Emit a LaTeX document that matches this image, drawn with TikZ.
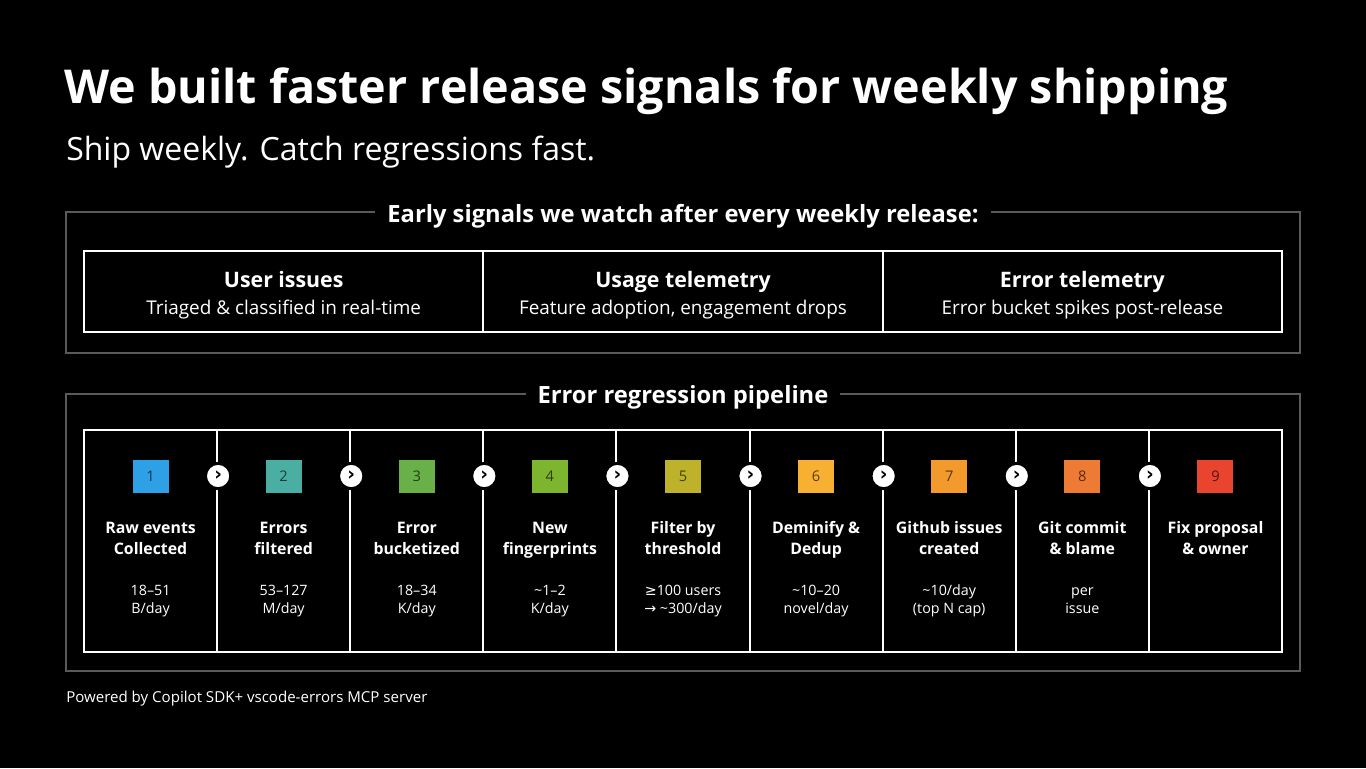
\documentclass[tikz,border=0pt]{standalone}
\usepackage{fontspec}
\setmainfont{Open Sans}
\newfontfamily\symfont{DejaVu Sans}

\definecolor{framegray}{HTML}{5A5A5A}
\definecolor{sqa}{HTML}{2EA1E6}
\definecolor{sqb}{HTML}{4BAEA2}
\definecolor{sqc}{HTML}{6AB048}
\definecolor{sqd}{HTML}{7DB52F}
\definecolor{sqe}{HTML}{BDB22A}
\definecolor{sqf}{HTML}{F7B032}
\definecolor{sqg}{HTML}{F29B2C}
\definecolor{sqh}{HTML}{EE7B34}
\definecolor{sqi}{HTML}{E8442E}

\begin{document}
\begin{tikzpicture}[x=0.75pt,y=-0.75pt,
    panel/.style ={draw=framegray, line width=1.1pt, inner sep=0pt,
                   minimum width=925.5pt},
    heading/.style ={fill=black, text=white, inner xsep=9pt, inner ysep=2pt,
                   font=\bfseries\fontsize{17.8}{20}\selectfont},
    sigcell/.style ={draw=white, line width=1.5pt, inner sep=0pt,
                   minimum width=299.5pt, minimum height=60.75pt},
    sigtitle/.style ={text=white, anchor=base, inner sep=0pt,
                   font=\bfseries\fontsize{16}{19}\selectfont},
    sigtext/.style ={text=white, anchor=base, inner sep=0pt,
                   font=\fontsize{14.2}{17}\selectfont},
    stage/.style ={draw=white, line width=1.5pt, inner sep=0pt,
                   minimum width=99.83pt, minimum height=166.5pt},
    badge/.style ={inner sep=0pt, minimum width=27pt, minimum height=24.75pt,
                   font=\fontsize{11}{12}\selectfont},
    hop/.style ={circle, fill=white, draw=black, line width=2.2pt,
                   inner sep=0pt, minimum size=19pt, text=black,
                   font=\symfont\bfseries\fontsize{14}{14}\selectfont},
    stagename/.style ={text=white, align=center, inner sep=0pt, anchor=north,
                   font=\bfseries\fontsize{11.9}{15.75}\selectfont},
    stagevol/.style ={text=white, align=center, inner sep=0pt, anchor=north,
                   font=\fontsize{10.7}{13.5}\selectfont}]
   \useasboundingbox[fill=black] (0,0) rectangle (1366,768);

   % title
   \node[text=white, anchor=base west, inner sep=0pt,
         font=\bfseries\fontsize{35}{40}\selectfont] (title) at (64,103)
         {We built faster release signals for weekly shipping};
   \node[text=white, anchor=base west, inner sep=0pt,
         font=\fontsize{24}{28}\selectfont] (subtitle) at (66,160)
         {Ship weekly. Catch regressions fast.};

   % early signals
   \node[panel, minimum height=105.75pt] (signals) at (683,282.5) {};
   \node[heading] (signalshead) at (683,216)
         {Early signals we watch after every weekly release:};
   \node[sigcell] (s1) at (283.67,291.5) {};
   \node[sigcell] (s2) at (683,291.5) {};
   \node[sigcell] (s3) at (1082.33,291.5) {};
   \node[sigtitle] (s1t) at (283.67,287) {User issues};
   \node[sigtext]  (s1d) at (283.67,314) {Triaged \& classified in real-time};
   \node[sigtitle] (s2t) at (683,287) {Usage telemetry};
   \node[sigtext]  (s2d) at (683,314) {Feature adoption, engagement drops};
   \node[sigtitle] (s3t) at (1082.33,287) {Error telemetry};
   \node[sigtext]  (s3d) at (1082.33,314) {Error bucket spikes post-release};

   % pipeline
   \node[panel, minimum height=207.75pt] (pipeline) at (683,532.5) {};
   \node[heading] (pipehead) at (683,397) {Error regression pipeline};

   \node[stage] (c1) at (150.56,541) {};
   \node[stage] (c2) at (283.67,541) {};
   \node[stage] (c3) at (416.78,541) {};
   \node[stage] (c4) at (549.89,541) {};
   \node[stage] (c5) at (683,541) {};
   \node[stage] (c6) at (816.11,541) {};
   \node[stage] (c7) at (949.22,541) {};
   \node[stage] (c8) at (1082.33,541) {};
   \node[stage] (c9) at (1215.44,541) {};

   \node[badge, fill=sqa, text=sqa!35!black] (b1) at (150.56,476) {1};
   \node[badge, fill=sqb, text=sqb!35!black] (b2) at (283.67,476) {2};
   \node[badge, fill=sqc, text=sqc!35!black] (b3) at (416.78,476) {3};
   \node[badge, fill=sqd, text=sqd!35!black] (b4) at (549.89,476) {4};
   \node[badge, fill=sqe, text=sqe!35!black] (b5) at (683,476) {5};
   \node[badge, fill=sqf, text=sqf!35!black] (b6) at (816.11,476) {6};
   \node[badge, fill=sqg, text=sqg!35!black] (b7) at (949.22,476) {7};
   \node[badge, fill=sqh, text=sqh!35!black] (b8) at (1082.33,476) {8};
   \node[badge, fill=sqi, text=sqi!35!black] (b9) at (1215.44,476) {9};

   \node[hop] (h1) at (c1.east |- b1) {›};
   \node[hop] (h2) at (c2.east |- b1) {›};
   \node[hop] (h3) at (c3.east |- b1) {›};
   \node[hop] (h4) at (c4.east |- b1) {›};
   \node[hop] (h5) at (c5.east |- b1) {›};
   \node[hop] (h6) at (c6.east |- b1) {›};
   \node[hop] (h7) at (c7.east |- b1) {›};
   \node[hop] (h8) at (c8.east |- b1) {›};

   \node[stagename] (n1) at (150.56,518.5) {\strut Raw events\\Collected};
   \node[stagename] (n2) at (283.67,518.5) {\strut Errors\\filtered};
   \node[stagename] (n3) at (416.78,518.5) {\strut Error\\bucketized};
   \node[stagename] (n4) at (549.89,518.5) {\strut New\\fingerprints};
   \node[stagename] (n5) at (683,518.5) {\strut Filter by\\threshold};
   \node[stagename] (n6) at (816.11,518.5) {\strut Deminify \&\\Dedup};
   \node[stagename] (n7) at (949.22,518.5) {\strut Github issues\\created};
   \node[stagename] (n8) at (1082.33,518.5) {\strut Git commit\\\& blame};
   \node[stagename] (n9) at (1215.44,518.5) {\strut Fix proposal\\\& owner};

   \node[stagevol] (v1) at (150.56,582.5) {\strut 18–51\\B/day};
   \node[stagevol] (v2) at (283.67,582.5) {\strut 53–127\\M/day};
   \node[stagevol] (v3) at (416.78,582.5) {\strut 18–34\\K/day};
   \node[stagevol] (v4) at (549.89,582.5) {\strut \textasciitilde1–2\\K/day};
   \node[stagevol] (v5) at (683,582.5) {\strut{\symfont ≥}100 users\\{\symfont →} \textasciitilde300/day};
   \node[stagevol] (v6) at (816.11,582.5) {\strut \textasciitilde10–20\\novel/day};
   \node[stagevol] (v7) at (949.22,582.5) {\strut \textasciitilde10/day\\(top N cap)};
   \node[stagevol] (v8) at (1082.33,582.5) {\strut per\\issue};

   % footer
   \node[text=white, anchor=base west, inner sep=0pt,
         font=\fontsize{11.3}{13}\selectfont] (footer) at (66,702)
         {Powered by Copilot SDK+ vscode-errors MCP server};
\end{tikzpicture}
\end{document}
